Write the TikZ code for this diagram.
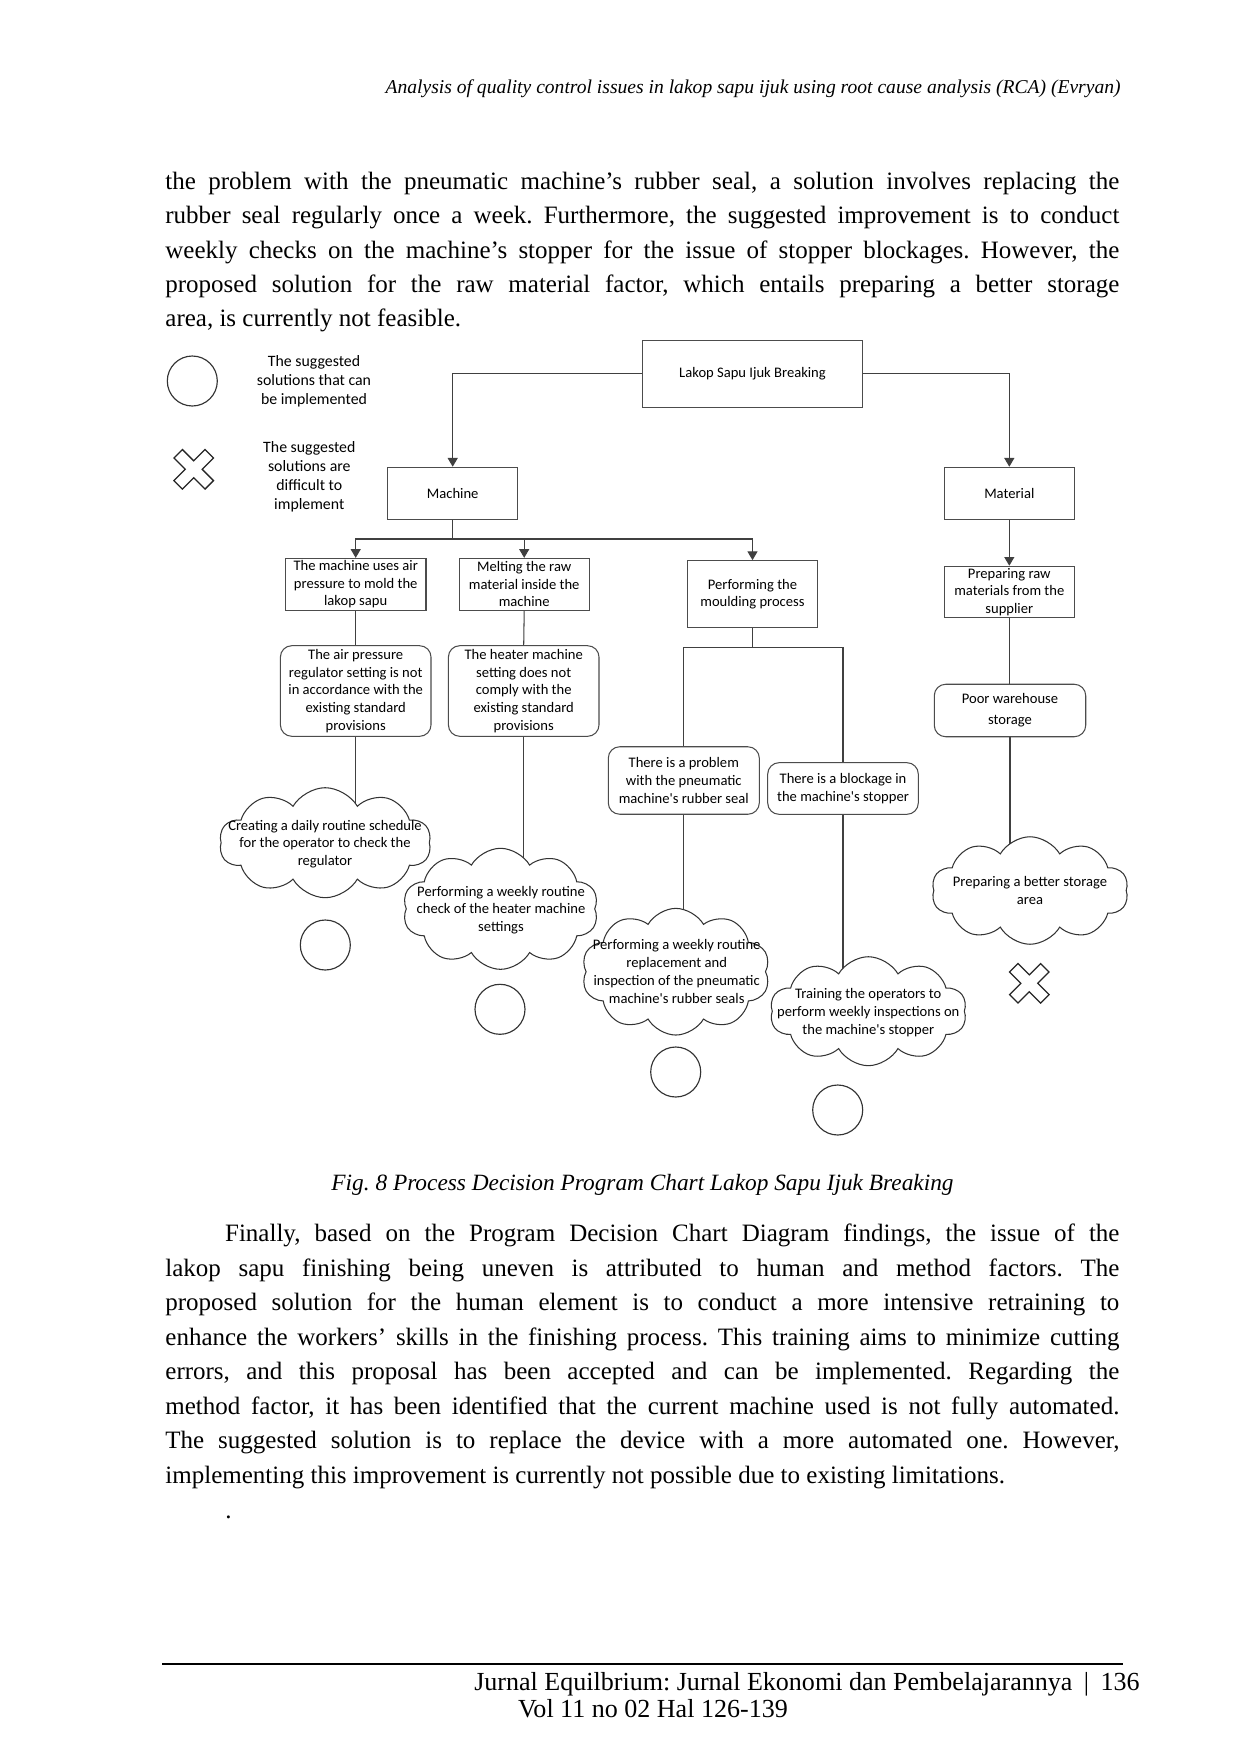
\documentclass[tikz,border=0pt]{standalone}
\usepackage{fontspec}
\setmainfont{Liberation Serif}
\newfontfamily\dfont{Carlito}
\frenchspacing
\usetikzlibrary{shapes.symbols,arrows.meta}
\pgfdeclarelayer{paper}
\pgfdeclarelayer{conn}
\pgfsetlayers{paper,conn,main}
\tikzset{
  ln/.style={draw=black!75, line width=0.5pt},
  arr/.style={ln, -{Triangle[length=4.2pt,width=4.8pt]}},
  dtxt/.style={inner sep=0, align=center, font={\dfont\fontsize{7}{8.5}\selectfont}},
  box/.style={dtxt, draw=black!70, line width=0.5pt, fill=white},
  rbox/.style={box, rounded corners=5.5pt},
  cl/.style={cloud, cloud puffs=10, cloud puff arc=120, draw=black!80, line width=0.5pt, fill=white, inner sep=0},
  okc/.style={circle, draw=black!80, line width=0.55pt, minimum size=24pt, inner sep=0},
  bodyl/.style={anchor=base west, inner sep=0, font={\fontsize{12}{14}\selectfont}},
  xmark/.pic={\draw[draw=black!85, line width=0.6pt, rotate=45]
     (6,6) -- (22,6) -- (22,-6) -- (6,-6) -- (6,-22) -- (-6,-22) -- (-6,-6) -- (-22,-6)
     -- (-22,6) -- (-6,6) -- (-6,22) -- (6,22) -- cycle;}
}
\begin{document}
\begin{tikzpicture}[x=0.48pt,y=-0.48pt]
\useasboundingbox (0,0) rectangle (1241,1753);
\begin{pgfonlayer}{paper}
\fill[white] (0,0) rectangle (1241,1753);
\end{pgfonlayer}

% header
\node[anchor=base east, inner sep=0, font={\itshape\fontsize{9.4}{11}\selectfont}] (hdr) at (1121,93.3)
  {Analysis of quality control issues in lakop sapu ijuk using root cause analysis (RCA) (Evryan)};

% paragraph 1
\node[bodyl] (b1) at (165,189.3) {\makebox[457.9pt][s]{the problem with the pneumatic machine's rubber seal, a solution involves replacing the}};
\node[bodyl] (b2) at (165,223.7) {\makebox[457.9pt][s]{rubber seal regularly once a week. Furthermore, the suggested improvement is to conduct}};
\node[bodyl] (b3) at (165,258.0) {\makebox[457.9pt][s]{weekly checks on the machine's stopper for the issue of stopper blockages. However, the}};
\node[bodyl] (b4) at (165,292.4) {\makebox[457.9pt][s]{proposed solution for the raw material factor, which entails preparing a better storage}};
\node[bodyl] (b5) at (165,326.7) {area, is currently not feasible.};

% legend
\node[okc] (lgc) at (192.3,381) {};
\node[dtxt, font={\dfont\fontsize{7.6}{9.1}\selectfont}] (lgt1) at (314,381.5) {The suggested\\solutions that can\\be implemented};
\pic (lgx) at (193.7,469.3) {xmark};
\node[dtxt, font={\dfont\fontsize{7.6}{9.1}\selectfont}] (lgt2) at (309.3,476.6) {The suggested\\solutions are\\difficult to\\implement};

% boxes
\node[box, minimum width=105.8pt, minimum height=32.3pt] (lakop) at (752.5,373.7) {Lakop Sapu Ijuk Breaking};
\node[box, minimum width=62.4pt, minimum height=25pt] (mach) at (452.7,493.3) {Machine};
\node[box, minimum width=62.4pt, minimum height=25pt] (mat) at (1009.3,493.3) {Material};
\node[box, minimum width=62.4pt, minimum height=24.7pt] (prep) at (1009.3,592) {Preparing raw\\materials from the\\supplier};
\node[box, minimum width=67.5pt, minimum height=24.8pt] (bx1) at (355.7,584.2) {The machine uses air\\pressure to mold the\\lakop sapu};
\node[box, minimum width=62.3pt, minimum height=24.8pt] (bx2) at (524.2,584.2) {Melting the raw\\material inside the\\machine};
\node[box, minimum width=62.2pt, minimum height=32.2pt] (bx3) at (752.5,594.2) {Performing the\\moulding process};

\node[rbox, minimum width=72.3pt, minimum height=43.5pt] (ra) at (355.7,691) {The air pressure\\regulator setting is not\\in accordance with the\\existing standard\\provisions};
\node[rbox, minimum width=72.3pt, minimum height=43.5pt] (rb) at (523.7,691) {The heater machine\\setting does not\\comply with the\\existing standard\\provisions};
\node[rbox, minimum width=72.5pt, minimum height=32.4pt] (rc) at (683.8,780.5) {There is a problem\\with the pneumatic\\machine's rubber seal};
\node[rbox, minimum width=72.3pt, minimum height=24.8pt] (rd) at (843,788.5) {There is a blockage in\\the machine's stopper};
\node[rbox, minimum width=72.7pt, minimum height=25.2pt, font={\dfont\fontsize{7}{10}\selectfont}] (re) at (1010,710.5) {Poor warehouse\\storage};

% clouds
\node[cl, minimum width=101.6pt, minimum height=52.8pt] (ca) at (325.2,842.7) {};
\node[cl, minimum width=93.9pt, minimum height=58.1pt] (cb) at (500.5,908.8) {};
\node[cl, minimum width=90.4pt, minimum height=60.8pt] (cc) at (675.8,971.7) {};
\node[cl, minimum width=94.4pt, minimum height=52.3pt] (cd) at (868.3,1011.2) {};
\node[cl, minimum width=94.4pt, minimum height=51.6pt] (ce) at (1030,890.5) {};
\node[dtxt] (cta) at (325,844) {Creating a daily routine schedule\\for the operator to check the\\regulator};
\node[dtxt] (ctb) at (501,910) {Performing a weekly routine\\check of the heater machine\\settings};
\node[dtxt] (ctc) at (676.7,971.5) {Performing a weekly routine\\replacement and\\inspection of the pneumatic\\machine's rubber seals};
\node[dtxt] (ctd) at (868.3,1012.5) {Training the operators to\\perform weekly inspections on\\the machine's stopper};
\node[dtxt] (cte) at (1030,890.4) {Preparing a better storage\\area};

% result marks
\node[okc] (oa) at (325.3,945) {};
\node[okc] (ob) at (500,1009.3) {};
\node[okc] (oc) at (675.7,1072) {};
\node[okc] (od) at (837.7,1110) {};
\pic (xe) at (1029.3,983.3) {xmark};

% connectors
\coordinate (jm) at (452.7,539);
\coordinate (j3) at (752.5,647.7);
\begin{pgfonlayer}{conn}
\draw[arr] (lakop.west) -| (mach.north);
\draw[arr] (lakop.east) -| (mat.north);
\draw[arr] (mat.south) -- (prep.north);
\draw[ln] (mach.south) -- (jm);
\draw[arr] (jm) -| (bx1.north);
\draw[arr] (jm) -| (bx2.north);
\draw[arr] (jm) -| (bx3.north);
\draw[ln] (bx1.south) -- (ra.north);
\draw[ln] (bx2.south) -- (rb.north);
\draw[ln] (bx3.south) -- (j3);
\draw[ln] (j3) -| (rc.north);
\draw[ln] (j3) -| (rd.north);
\draw[ln] (prep.south) -- (prep.south |- re.north);
\draw[ln] (ra.south) -- (ra.south |- ca.center);
\draw[ln] (rb.south) -- (rb.south |- cb.center);
\draw[ln] (rc.south) -- (rc.south |- cc.center);
\draw[ln] (rd.south) -- (rd.south |- cd.center);
\draw[ln] (re.south) -- (re.south |- ce.center);
\end{pgfonlayer}

% caption
\node[anchor=base, inner sep=0, font={\itshape\fontsize{11.2}{13}\selectfont}] (cap) at (642.5,1190.5)
  {Fig. 8 Process Decision Program Chart Lakop Sapu Ijuk Breaking};

% paragraph 2
\node[bodyl] (p1) at (224.7,1241.7) {\makebox[429.3pt][s]{Finally, based on the Program Decision Chart Diagram findings, the issue of the}};
\node[bodyl] (p2) at (165,1276.2) {\makebox[457.9pt][s]{lakop sapu finishing being uneven is attributed to human and method factors. The}};
\node[bodyl] (p3) at (165,1310.7) {\makebox[457.9pt][s]{proposed solution for the human element is to conduct a more intensive retraining to}};
\node[bodyl] (p4) at (165,1345.2) {\makebox[457.9pt][s]{enhance the workers' skills in the finishing process. This training aims to minimize cutting}};
\node[bodyl] (p5) at (165,1379.7) {\makebox[457.9pt][s]{errors, and this proposal has been accepted and can be implemented. Regarding the}};
\node[bodyl] (p6) at (165,1414.2) {\makebox[457.9pt][s]{method factor, it has been identified that the current machine used is not fully automated.}};
\node[bodyl] (p7) at (165,1448.7) {\makebox[457.9pt][s]{The suggested solution is to replace the device with a more automated one. However,}};
\node[bodyl] (p8) at (165,1483.2) {implementing this improvement is currently not possible due to existing limitations.};
\node[bodyl] (dot) at (225,1518) {.};

% footer
\draw[line width=0.9pt] (162,1664.3) -- (1123.3,1664.3);
\node[anchor=base east, inner sep=0, font={\fontsize{12.5}{14}\selectfont}] (ft1) at (1140,1690)
  {Jurnal Equilbrium: Jurnal Ekonomi dan Pembelajarannya\hspace{5.5pt}|\hspace{5.5pt}136};
\node[bodyl, font={\fontsize{12.5}{14}\selectfont}] (ft2) at (517.6,1717) {Vol 11 no 02 Hal 126-139};
\end{tikzpicture}
\end{document}
